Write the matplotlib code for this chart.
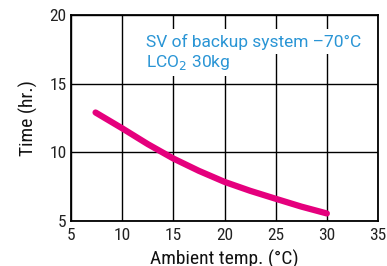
import matplotlib
matplotlib.use("Agg")
import matplotlib.pyplot as plt

temp = [7.4, 10, 12.5, 15, 17.5, 20, 22.5, 25, 27.5, 30]
time_hr = [12.9, 11.75, 10.6, 9.55, 8.65, 7.85, 7.2, 6.62, 6.05, 5.55]
xticks = [5, 10, 15, 20, 25, 30, 35]
yticks = [5, 10, 15, 20]
note_lines = ['SV of backup system –70°C', 'LCO$_2$ 30kg']

plt.rcParams['font.family'] = ['Roboto Condensed', 'DejaVu Sans']

fig = plt.figure(figsize=(3.87, 2.66), dpi=100)
ax = fig.add_axes([71/387, 1-221/266, 307/387, 206/266])
ax.set_xlim(5, 35)
ax.set_ylim(5, 20)
ax.set_xticks(xticks)
ax.set_yticks(yticks)
ax.tick_params(length=0, labelsize=12.5, colors='#222222')
ax.tick_params(axis='x', pad=5)
ax.tick_params(axis='y', pad=3)
ax.grid(True, color='black', linewidth=1.0)
ax.set_axisbelow(True)
for s in ax.spines.values():
    s.set_linewidth(1.3)
ax.plot(temp, time_hr, color='#e5007d', linewidth=4.5, solid_capstyle='round', zorder=3)
ax.set_xlabel('Ambient temp. (°C)', fontsize=14, labelpad=5, color='#111111')
ax.set_ylabel('Time (hr.)', fontsize=14, labelpad=8, color='#111111')
for i, line in enumerate(note_lines):
    ax.text(0.243, 0.91 - i * 0.095, line, transform=ax.transAxes,
            fontsize=12.5, color='#2a95d5', family=['Roboto', 'DejaVu Sans'],
            va='top', ha='left',
            bbox=dict(facecolor='white', edgecolor='none', pad=3), zorder=4)
fig.savefig('out.png', dpi=100)
